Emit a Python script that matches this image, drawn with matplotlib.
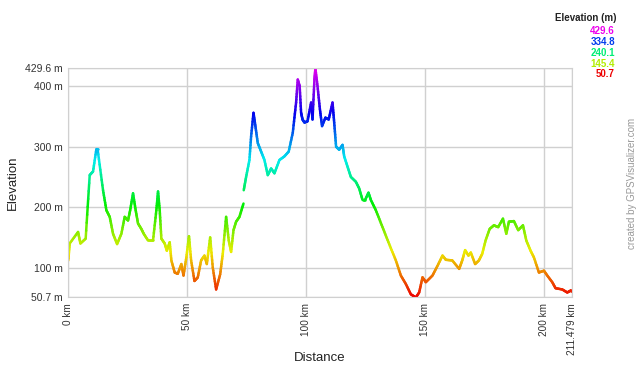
import matplotlib
matplotlib.use('Agg')
import matplotlib.pyplot as plt
import numpy as np
from matplotlib.collections import LineCollection
from matplotlib.colors import hsv_to_rgb

# profile (km, m); nan = gap in the track
dist = [0, 0.6, 4.1, 5.1, 7.3, 9.0, 10.4, 11.8, 12.3, 14.6, 16.0, 17.4, 18.8, 20.5,
        22.3, 23.7, 25.1, 26.0, 27.2, 28.3, 29.3, 30.7, 31.7, 33.5, 35.6, 37.0, 37.7,
        38.4, 39.1, 40.5, 41.4, 42.6, 43.3, 44.7, 46.0, 47.5, 48.4, 49.6, 50.7, 51.6,
        53.0, 54.4, 55.8, 57.2, 58.2, 59.6, 60.7, 62.1, 63.8, 64.9, 66.3, 67.4, 68.4,
        69.4, 70.5, 71.9, 73.6, 73.65, 73.7, 74.7, 76.1, 76.8, 77.8, 78.6, 79.6, 81.0,
        82.4, 83.8, 85.2, 86.6, 88.7, 90.8, 92.6, 94.3, 95.7, 96.4, 97.2, 97.8, 98.4,
        99.2, 100.5, 102.0, 102.6, 103.4, 103.8, 104.7, 105.7, 106.6, 108.0, 109.4,
        111.0, 111.7, 112.5, 113.8, 115.2, 115.9, 117.3, 118.7, 120.8, 122.2, 123.6,
        124.7, 126.1, 127.1, 129.2, 132.0, 134.8, 137.6, 139.7, 141.8, 143.9, 146.0,
        147.4, 148.8, 150.2, 153.0, 155.1, 157.2, 158.6, 161.3, 164.2, 165.5, 166.7,
        168.1, 169.1, 170.9, 172.5, 173.9, 175.3, 177.0, 178.8, 180.6, 182.6, 184.0,
        185.1, 187.2, 189.0, 191.0, 192.4, 194.2, 195.6, 197.7, 199.8, 201.2, 203.3,
        204.7, 207.5, 209.6, 211.0, 211.479]
elev = [112, 140, 159, 140, 148, 253, 259, 296, 296, 228, 195, 184, 156, 139,
        156, 184, 178, 195, 223, 195, 173, 164, 156, 145, 145, 195, 226,
        195, 148, 140, 128, 142, 112, 92, 90, 106, 87, 117, 152, 112,
        78, 84, 112, 120, 106, 150, 100, 64, 89, 123, 184, 145, 126,
        162, 176, 184, 206, np.nan, 228, 250, 278, 317, 356, 334, 306, 292,
        278, 253, 264, 256, 278, 284, 292, 323, 373, 411, 400, 356, 345,
        340, 342, 373, 345, 411, 429.6, 400, 362, 334, 348, 345,
        373, 340, 300, 295, 303, 284, 267, 250, 242, 231, 212,
        212, 224, 212, 195, 167, 139, 112, 87, 73, 56, 50.7,
        59, 84, 76, 87, 103, 120, 113, 112, 98, 112, 129,
        120, 125, 106, 112, 123, 145, 164, 170, 167, 181, 156,
        176, 177, 162, 170, 145, 128, 117, 92, 95, 87, 76,
        66, 64, 59, 62, 61]

emin, emax = 50.7, 429.6
xticks = [0, 50, 100, 150, 200, 211.479]
xlabels = ['0 km', '50 km', '100 km', '150 km', '200 km', '211.479 km']
yticks = [50.7, 100, 200, 300, 400, 429.6]
ylabels = ['50.7 m', '100 m', '200 m', '300 m', '400 m', '429.6 m']
legend_vals = ['429.6', '334.8', '240.1', '145.4', '50.7']


def elev_color(e):
    f = np.clip((np.asarray(e) - emin) / (emax - emin), 0, 1)
    hsv = np.stack([f * 300 / 360, np.ones_like(f), np.full_like(f, 0.93)], axis=-1)
    return hsv_to_rgb(hsv)


plt.rcParams['font.family'] = ['Liberation Sans', 'DejaVu Sans']
fig = plt.figure(figsize=(6.4, 3.66), dpi=100)
ax = fig.add_axes([0.1067, 0.1872, 0.7866, 0.6262])

# split each segment into small pieces so the colour follows the elevation
d = np.array(dist, float)
e = np.array(elev, float)
segs, cols = [], []
for i in range(len(d) - 1):
    if np.isnan(e[i]) or np.isnan(e[i + 1]):
        continue
    t = np.linspace(0, 1, 9)
    xs = d[i] + (d[i + 1] - d[i]) * t
    ys = e[i] + (e[i + 1] - e[i]) * t
    for k in range(len(t) - 1):
        segs.append([(xs[k], ys[k]), (xs[k + 1], ys[k + 1])])
        cols.append((ys[k] + ys[k + 1]) / 2)
lc = LineCollection(segs, colors=elev_color(np.array(cols)), linewidths=1.8,
                    capstyle='round')
ax.add_collection(lc)

ax.set_xlim(0, 211.479)
ax.set_ylim(emin, emax)
ax.set_xticks(xticks)
ax.set_xticklabels(xlabels, rotation=90, fontsize=7.2, color='#333333')
ax.set_yticks(yticks)
ax.set_yticklabels(ylabels, fontsize=7.5, color='#333333')
ax.tick_params(length=0, pad=4)
ax.grid(True, color='#d0d0d0', linewidth=1)
ax.set_axisbelow(True)
for s in ax.spines.values():
    s.set_color('#d0d0d0')

fig.text(320 / 640, 1 - 358 / 366, 'Distance', ha='center', va='center',
         fontsize=9.5, color='#222222')
fig.text(13 / 640, 1 - 183 / 366, 'Elevation', ha='center', va='center',
         rotation=90, fontsize=9.5, color='#222222')

fig.text(0.964, 0.95, 'Elevation (m)', ha='right', va='center', fontsize=7,
         fontweight='bold', color='#222222')
for j, v in enumerate(legend_vals):
    c = elev_color(float(v))
    fig.text(0.961, 0.915 - j * 0.0295, v, ha='right', va='center', fontsize=7,
             fontweight='bold', color=c)

fig.text(0.988, 0.5, 'created by GPSVisualizer.com', rotation=90, ha='center',
         va='center', fontsize=7, color='#999999')

fig.savefig('out.png', dpi=100)
